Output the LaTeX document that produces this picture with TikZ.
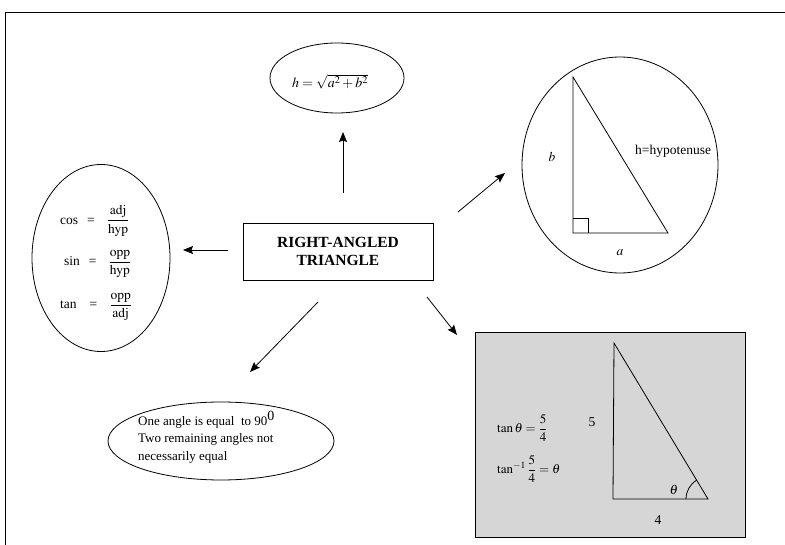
\documentclass[tikz,border=0pt]{standalone}
\usepackage{amsmath}
\usepackage{mathptmx}
\usepackage{fontspec}
\setmainfont{Liberation Serif}
\usetikzlibrary{arrows.meta,shapes.geometric,calc}
\tikzset{
  arr/.style={line width=0.8pt,-{Stealth[length=10pt,width=8pt,inset=1.5pt]}},
  oval/.style={draw,line width=0.8pt,ellipse,inner sep=0pt},
  txt/.style={inner sep=0pt,font=\fontsize{13.5}{15}\selectfont},
  frm/.style={txt,anchor=west,font=\fontsize{13.5}{15}\selectfont},
}
\begin{document}
\begin{tikzpicture}[x=1pt,y=-1pt]
\useasboundingbox (0,0) rectangle (785,545);
% outer frame
\draw[line width=0.8pt] (5,545) -- (5,12) -- (785,12);
% top ellipse
\node[oval,minimum width=134pt,minimum height=70pt] (top) at (337,78) {};
\node[txt,font=\fontsize{14}{16}\selectfont] (toptxt) at (330,82) {$h=\sqrt{a^{2}+b^{2}}$};
% central box
\node[draw,line width=0.8pt,minimum width=190pt,minimum height=57pt,inner sep=0pt,align=center,
      font=\bfseries\fontsize{15.5}{17.5}\selectfont] (main) at (338,251.5) {RIGHT-ANGLED\\TRIANGLE};
% left ellipse
\node[oval,minimum width=138pt,minimum height=187pt] (left) at (101,258) {};
\node[frm] (cosl) at (60,221) {cos\hspace{9pt}=\hspace{12pt}$\dfrac{\mathrm{adj}}{\mathrm{hyp}}$};
\node[frm] (sinl) at (64,264) {sin\hspace{9pt}=\hspace{12pt}$\dfrac{\mathrm{opp}}{\mathrm{hyp}}$};
\node[frm] (tanl) at (60,307) {tan\hspace{13pt}=\hspace{12pt}$\dfrac{\mathrm{opp}}{\mathrm{adj}}$};
% right circle
\node[oval,minimum width=196pt,minimum height=216pt] (circ) at (620,165) {};
\coordinate (t1) at (573,77);
\coordinate (t2) at (573,233);
\coordinate (t3) at (668,233);
\draw[line width=0.8pt] (t1) -- (t2) -- (t3) -- cycle;
\draw[line width=0.6pt] (573,218) -- (588,218) -- (588,233);
\node[txt] (lb) at (552,157) {$b$};
\node[txt] (la) at (620,253) {$a$};
\node[txt,anchor=west] (lh) at (635,151) {h=hypotenuse};
% shaded box
\node[draw,line width=0.9pt,fill={rgb,255:red,214;green,214;blue,214},minimum width=270pt,minimum height=205pt,inner sep=0pt] (shade) at (610,434.5) {};
\coordinate (s1) at (614,343);
\coordinate (s2) at (613,499);
\coordinate (s3) at (708,499);
\draw[line width=0.8pt] (s1) -- (s2) -- (s3) -- cycle;
\draw[line width=0.8pt] ($(s3)+(-22,0)$) arc (180:239:22);
\node[txt] (l5) at (592,422) {5};
\node[txt] (l4) at (658,520) {4};
\node[txt] (lth) at (674,490) {$\theta$};
\node[txt,anchor=west,font=\fontsize{13}{15}\selectfont] (tan1) at (497,428) {$\tan\theta=\dfrac{5}{4}$};
\node[txt,anchor=west,font=\fontsize{13}{15}\selectfont] (tan2) at (497,469) {$\tan^{-1}\dfrac{5}{4}=\theta$};
% bottom ellipse
\node[oval,minimum width=226pt,minimum height=78pt] (bot) at (221,441) {};
\node[txt,anchor=west,align=left,font=\fontsize{13}{17.5}\selectfont] (bottxt) at (138,437) {One angle is equal \ to 90$^{\text{\fontsize{14}{14}\selectfont 0}}$\\Two remaining angles not\\necessarily equal};
% arrows
\coordinate (aup1) at (343,193); \coordinate (aup2) at (343,132);
\coordinate (al1) at (228,250); \coordinate (al2) at (183,250);
\coordinate (ane1) at (458,212); \coordinate (ane2) at (505,173);
\coordinate (ase1) at (427,297); \coordinate (ase2) at (457,335);
\coordinate (asw1) at (318,302); \coordinate (asw2) at (250,372);
\draw[arr] (aup1) -- (aup2);
\draw[arr] (al1) -- (al2);
\draw[arr] (ane1) -- (ane2);
\draw[arr] (ase1) -- (ase2);
\draw[arr] (asw1) -- (asw2);
\end{tikzpicture}
\end{document}
